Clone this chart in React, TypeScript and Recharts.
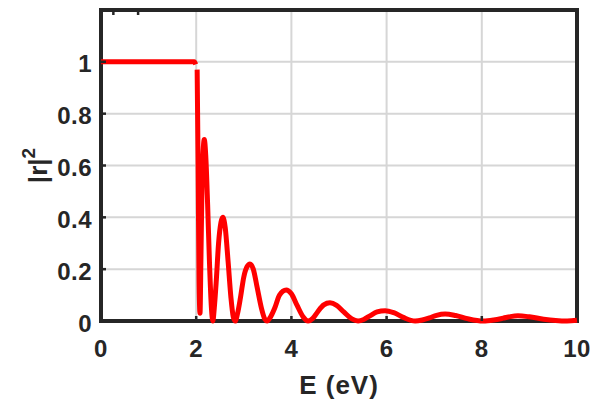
import React from "react";
import {
  LineChart,
  Line,
  XAxis,
  YAxis,
  CartesianGrid,
  ReferenceArea,
} from "recharts";

// energy (eV) and reflectance |r|^2; null marks the break at E = 2
const energy = [
  0, 1, 1.9, 1.96, 1.99, 2.0, 2.02, 2.04, 2.06, 2.08, 2.1, 2.12, 2.14, 2.17, 2.2,
  2.24, 2.28, 2.32, 2.35, 2.38, 2.42, 2.47, 2.52, 2.56, 2.61, 2.67, 2.73, 2.78,
  2.82, 2.87, 2.93, 3.0, 3.07, 3.13, 3.2, 3.28, 3.37, 3.44, 3.49, 3.56, 3.65, 3.75,
  3.89, 4.0, 4.12, 4.25, 4.35, 4.45, 4.55, 4.68, 4.81, 4.95, 5.1, 5.27, 5.4, 5.52,
  5.65, 5.8, 5.97, 6.15, 6.35, 6.6, 6.75, 6.9, 7.05, 7.23, 7.45, 7.7, 8.03, 8.25,
  8.45, 8.6, 8.76, 9.0, 9.3, 9.55, 9.79, 10,
];
const reflectance = [
  1, 1, 1, 1, 0.99, null, 0.97, 0.6, 0.15, 0.03, 0.25, 0.5, 0.63, 0.7, 0.64,
  0.45, 0.22, 0.05, 0, 0.05, 0.15, 0.3, 0.38, 0.4, 0.36, 0.23, 0.09, 0.015,
  0, 0.03, 0.09, 0.17, 0.21, 0.22, 0.2, 0.13, 0.05, 0.008, 0, 0.015, 0.05, 0.1,
  0.12, 0.105, 0.06, 0.015, 0, 0.01, 0.035, 0.062, 0.07, 0.06, 0.035, 0.008, 0, 0.006,
  0.02, 0.035, 0.04, 0.032, 0.014, 0, 0.004, 0.012, 0.022, 0.027, 0.021, 0.009, 0, 0.004,
  0.011, 0.017, 0.02, 0.016, 0.007, 0.002, 0, 0.003,
];
const xTicks = [0, 2, 4, 6, 8, 10];
const yTicks = [0, 0.2, 0.4, 0.6, 0.8, 1];

const data = energy.map((e, i) => ({ E: e, R: reflectance[i] }));

const INK = "#262626";
const FONT = "'Liberation Sans', Arial, sans-serif";

const BottomTick = (props: any) => {
  const { x, y, payload } = props;
  return (
    <g>
      {payload.value !== 0 && payload.value !== 10 && (
        <line x1={x} y1={y} x2={x} y2={y - 5} stroke={INK} strokeWidth={2.5} />
      )}
      <text x={x} y={y + 36} textAnchor="middle" fill={INK} fontSize={24} fontWeight="bold" fontFamily={FONT} letterSpacing={0.5}>
        {payload.value}
      </text>
    </g>
  );
};

const TopTick = (props: any) => {
  const { x, y, payload } = props;
  if (payload.value === 0 || payload.value === 10) return <g />;
  return <line x1={x} y1={y} x2={x} y2={y + 5} stroke={INK} strokeWidth={2.5} />;
};

const LeftTick = (props: any) => {
  const { x, y, payload } = props;
  return (
    <g>
      {payload.value !== 0 && (
        <line x1={x} y1={y} x2={x + 5} y2={y} stroke={INK} strokeWidth={2.5} />
      )}
      <text x={x - 9} y={y + 10.5} textAnchor="end" fill={INK} fontSize={24} fontWeight="bold" fontFamily={FONT} letterSpacing={0.5}>
        {payload.value}
      </text>
    </g>
  );
};

const RightTick = (props: any) => {
  const { x, y, payload } = props;
  if (payload.value === 0) return <g />;
  return <line x1={x} y1={y} x2={x - 5} y2={y} stroke={INK} strokeWidth={2.5} />;
};

const YLabel = (props: any) => {
  const vb = props.viewBox || { y: 0, height: 311 };
  const cy = vb.y + vb.height / 2;
  const cx = 47;
  return (
    <text
      x={cx}
      y={cy}
      transform={`rotate(-90, ${cx}, ${cy})`}
      textAnchor="middle"
      fill={INK}
      fontSize={26}
      fontWeight="bold"
      fontFamily={FONT}
    >
      |r|
      <tspan dy={-12} fontSize={19}>2</tspan>
    </text>
  );
};

const XLabel = (props: any) => {
  const vb = props.viewBox || { x: 101, width: 476 };
  return (
    <text
      x={vb.x + vb.width / 2}
      y={394}
      textAnchor="middle"
      fill={INK}
      fontSize={26}
      fontWeight="bold"
      fontFamily={FONT}
      letterSpacing={1}
    >
      E (eV)
    </text>
  );
};

export default function App() {
  return (
    <div style={{ position: "absolute", left: 0, top: 0, background: "#fff" }}>
      <LineChart width={595} height={402} data={data} margin={{ top: 0, right: 0, bottom: 0, left: 0 }}>
        <CartesianGrid stroke="#d6d6d6" strokeWidth={2} />
        <XAxis
          dataKey="E"
          type="number"
          domain={[0, 10]}
          ticks={xTicks}
          height={81}
          tickSize={0}
          tickMargin={0}
          axisLine={false}
          tickLine={false}
          tick={<BottomTick />}
          label={{ content: <XLabel /> } as any}
        />
        <XAxis
          xAxisId="top"
          orientation="top"
          type="number"
          domain={[0, 10]}
          ticks={xTicks}
          height={10}
          tickSize={0}
          tickMargin={0}
          axisLine={false}
          tickLine={false}
          tick={<TopTick />}
        />
        <YAxis
          type="number"
          domain={[0, 1.2]}
          ticks={yTicks}
          width={101}
          tickSize={0}
          tickMargin={0}
          axisLine={false}
          tickLine={false}
          tick={<LeftTick />}
          label={{ content: <YLabel /> } as any}
        />
        <YAxis
          yAxisId="right"
          orientation="right"
          type="number"
          domain={[0, 1.2]}
          ticks={yTicks}
          width={18}
          tickSize={0}
          tickMargin={0}
          axisLine={false}
          tickLine={false}
          tick={<RightTick />}
        />
        <Line
          dataKey="R"
          type="monotone"
          stroke="#ff0000"
          strokeWidth={5}
          dot={false}
          activeDot={false}
          connectNulls={false}
          isAnimationActive={false}
        />
        <ReferenceArea x1={0} x2={10} y1={0} y2={1.2} fill="none" stroke={INK} strokeWidth={4} ifOverflow="visible" />
      </LineChart>
    </div>
  );
}
